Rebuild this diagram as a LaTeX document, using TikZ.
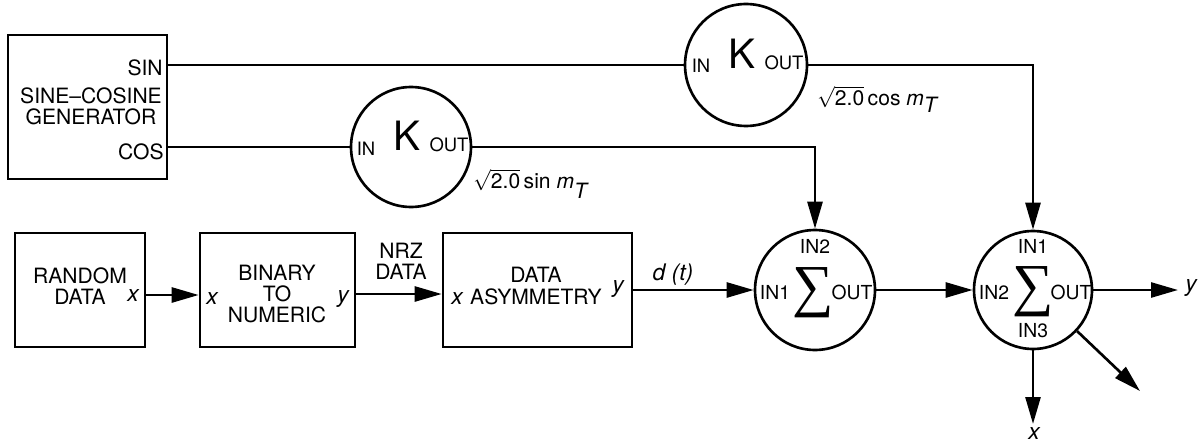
\documentclass[tikz,border=0pt]{standalone}
\usepackage{fontspec}
\usepackage{graphicx}
\setmainfont{TeX Gyre Heros}
\newfontfamily\sumfont{Liberation Serif}
\usetikzlibrary{arrows.meta}

\def\lw{1.5pt}

\tikzset{
	box/.style={draw, line width=\lw, inner sep=0pt},
	ring/.style={draw, circle, line width=\lw, minimum size=2.4cm, inner sep=0pt},
	wire/.style={line width=\lw},
	flow/.style={wire, -{Triangle[length=5.4mm, width=3mm]}},
	txt/.style={inner sep=0pt, align=center, font=\fontsize{12}{12}\selectfont},
	var/.style={inner sep=0pt, font=\fontsize{13}{13}\selectfont\itshape},
	sumlbl/.style={inner sep=0pt, font=\fontsize{11}{11}\selectfont},
	sigma/.style={inner sep=0pt, font=\sumfont\fontsize{33}{33}\selectfont},
	gainsmall/.style={inner sep=0pt, font=\fontsize{10.5}{10.5}\selectfont},
	gainbig/.style={inner sep=0pt, font=\fontsize{23}{23}\selectfont},
}

\begin{document}
\begin{tikzpicture}[x=0.02cm, y=-0.02cm]
		\useasboundingbox (0,0) rectangle (1200,446);
		
		% sine-cosine generator
		\node[box, minimum width=3.18cm, minimum height=2.88cm] (gen) at (87.5,107) {};
		\node[txt] (genname) at (91,106.5) {SINE–COSINE\\GENERATOR};
		\node[txt, anchor=east] (gensin) at (163,68) {SIN};
		\node[txt, anchor=east] (gencos) at (164,152) {COS};
		
		% gain blocks
		\node[ring, minimum size=2.44cm] (ksin) at (746,65) {};
		\node[ring] (kcos) at (411,147) {};
		\foreach \k in {ksin,kcos}{
			\node[gainsmall, anchor=base] (\k-in) at ([shift={(-45,8)}]\k.center) {IN};
			\node[gainbig, anchor=base] (\k-k) at ([shift={(-4,4)}]\k.center) {K};
			\node[gainsmall, anchor=base] (\k-out) at ([shift={(38,5)}]\k.center) {OUT};
		}
		
		\draw[wire] (ksin.west -| gen.east) -- (ksin.west);
		\draw[wire] (kcos.west -| gen.east) -- (kcos.west);
		
		\node[txt, anchor=west] (sinlbl) at (473,184) {$\sqrt{\mbox{2.0}}$\,sin \textit{m}\raisebox{-0.9ex}{\textit{T}}};
		\node[txt, anchor=west] (coslbl) at (817,99) {$\sqrt{\mbox{2.0}}$\,cos \textit{m}\raisebox{-0.6ex}{\textit{T}}};
		
		% data path
		\node[box, minimum width=2.6cm, minimum height=2.28cm] (rnd) at (80,290) {};
		\node[txt] (rndtxt) at (80,286.5) {RANDOM\\DATA};
		\node[var] (rndx) at (133,296) {x};
		
		\node[box, minimum width=3.1cm, minimum height=2.28cm] (bin) at (277.5,290) {};
		\node[txt] (bintxt) at (277,294) {BINARY\\TO\\NUMERIC};
		\node[var] (binx) at (212,299) {x};
		\node[var] (biny) at (343,299) {y};
		
		\node[txt] (nrz) at (401,261) {NRZ\\DATA};
		
		\node[box, minimum width=3.78cm, minimum height=2.28cm] (asym) at (537.5,290) {};
		\node[txt] (asymtxt) at (536,286) {DATA\\ASYMMETRY};
		\node[var] (asymx) at (457,299) {x};
		\node[var] (asymy) at (618,289) {y};
		
		\node[var] (dt) at (673,275) {d (t)};
		
		% summing junctions
		\node[ring] (sum1) at (815,290) {};
		\node[sumlbl] (sum1-in2) at ([shift={(0,-44)}]sum1.center) {IN2};
		\node[sumlbl] (sum1-in1) at ([shift={(-40,2)}]sum1.center) {IN1};
		\node[sigma] (sum1-sig) at ([shift={(-2,3)}]sum1.center) {∑};
		\node[sumlbl] (sum1-out) at ([shift={(37,2)}]sum1.center) {OUT};
		
		\node[ring, minimum size=2.36cm] (sum2) at (1033,290) {};
		\node[sumlbl] (sum2-in1) at ([shift={(0,-44)}]sum2.center) {IN1};
		\node[sumlbl] (sum2-in2) at ([shift={(-39,2)}]sum2.center) {IN2};
		\node[sigma] (sum2-sig) at ([shift={(0,2)}]sum2.center) {∑};
		\node[sumlbl] (sum2-out) at ([shift={(38,2)}]sum2.center) {OUT};
		\node[sumlbl] (sum2-in3) at ([shift={(0,41)}]sum2.center) {IN3};
		
		\draw[flow] ([yshift=-0.1cm]rnd.east) -- ([yshift=-0.1cm]bin.west);
		\draw[flow] ([yshift=-0.08cm]bin.east) -- ([yshift=-0.08cm]asym.west);
		\draw[flow] (asym.east) -- (sum1.west);
		\draw[flow] (sum1.east) -- (sum2.west);
		\draw[flow] (kcos.east) -| (sum1.north);
		\draw[flow] (ksin.east) -| (sum2.north);
		
		% outputs
		\coordinate (yend) at (1178,290);
		\coordinate (diagend) at (1140,391);
		\coordinate (xend) at (1033,424);
		\draw[flow] (sum2.east) -- (yend);
		\draw[flow] (sum2.-43) -- (diagend);
		\draw[flow] (sum2.south) -- (xend);
		\node[var] (outy) at (1191,288) {y};
		\node[var] (outx) at (1034,434) {x};
	\end{tikzpicture}
\end{document}
